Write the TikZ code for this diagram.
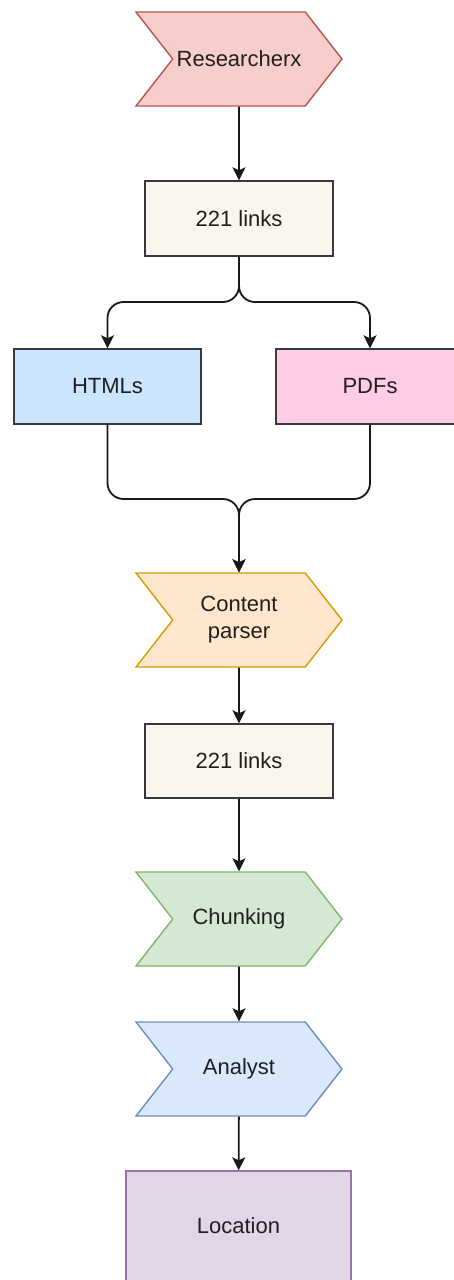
\documentclass[tikz,border=0pt]{standalone}
\usepackage{fontspec}
\setmainfont{Liberation Sans}
\usepackage{tikz}
\usetikzlibrary{shapes.symbols, arrows.meta, positioning}
\definecolor{ResFill}{HTML}{F8CECC}
\definecolor{ResLine}{HTML}{B85450}
\definecolor{LinkFill}{HTML}{F9F7ED}
\definecolor{BoxLine}{HTML}{36393D}
\definecolor{HtmlFill}{HTML}{CCE5FF}
\definecolor{PdfFill}{HTML}{FFCCE6}
\definecolor{ParseFill}{HTML}{FFE6CC}
\definecolor{ParseLine}{HTML}{D79B00}
\definecolor{ChunkFill}{HTML}{D5E8D4}
\definecolor{ChunkLine}{HTML}{82B366}
\definecolor{AnaFill}{HTML}{DAE8FC}
\definecolor{AnaLine}{HTML}{6C8EBF}
\definecolor{LocFill}{HTML}{E1D5E7}
\definecolor{LocLine}{HTML}{9673A6}
\definecolor{TxtDark}{HTML}{1F1F1F}

\tikzset{
  stepbox/.style={signal, signal from=west, signal to=east, signal pointer angle=104,
    minimum width=206pt, minimum height=94pt, inner sep=0pt, line width=1.4pt,
    align=center, text=TxtDark, font=\fontsize{22}{27}\selectfont},
  plainbox/.style={rectangle, draw=BoxLine, minimum width=188pt, minimum height=75pt,
    inner sep=0pt, line width=1.4pt, align=center, text=TxtDark,
    font=\fontsize{22}{27}\selectfont},
  flow/.style={-{Stealth[length=13pt, width=13pt, inset=3pt]}, line width=1.8pt,
    black!90, rounded corners=16pt}
}

\begin{document}
\begin{tikzpicture}[x=1pt,y=-1pt]
  \useasboundingbox (0,0) rectangle (454,1280);
  \fill[white] (0,0) rectangle (454,1280);
  % steps and boxes
  \node[stepbox, fill=ResFill, draw=ResLine] (res) at (239,59) {Researcherx};
  \node[plainbox, fill=LinkFill] (links1) at (239,218.5) {221 links};
  \node[plainbox, fill=HtmlFill, minimum width=187pt] (html) at (107.5,386.5) {HTMLs};
  \node[plainbox, fill=PdfFill] (pdf) at (370,386.5) {PDFs};
  \node[stepbox, fill=ParseFill, draw=ParseLine] (parser) at (239,620) {Content\\parser};
  \node[plainbox, fill=LinkFill, minimum height=74pt] (links2) at (239,761) {221 links};
  \node[stepbox, fill=ChunkFill, draw=ChunkLine] (chunk) at (239,919) {Chunking};
  \node[stepbox, fill=AnaFill, draw=AnaLine] (analyst) at (239,1069) {Analyst};
  \node[plainbox, fill=LocFill, draw=LocLine, minimum width=225pt, minimum height=110pt] (loc) at (238.5,1226) {Location};
  % connectors
  \coordinate (split) at (239,302);
  \coordinate (merge) at (239,499);
  \draw[flow] (res) -- (links1);
  \draw[flow] (links1.south) -- (split) -| (html.north);
  \draw[flow] (links1.south) -- (split) -| (pdf.north);
  \draw[flow] (html.south) |- (merge) -- (parser.north);
  \draw[flow] (pdf.south) |- (merge) -- (parser.north);
  \draw[flow] (parser) -- (links2);
  \draw[flow] (links2) -- (chunk);
  \draw[flow] (chunk) -- (analyst);
  \draw[flow] (analyst) -- (loc);
\end{tikzpicture}
\end{document}
